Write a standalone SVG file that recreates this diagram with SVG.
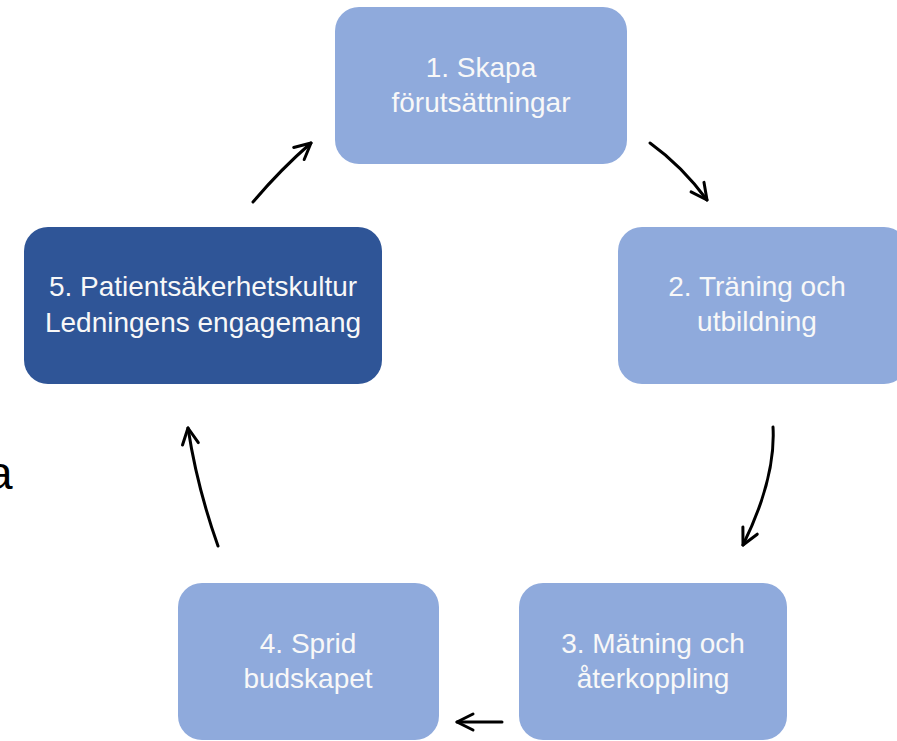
<svg xmlns="http://www.w3.org/2000/svg" width="897" height="741" viewBox="0 0 897 741">
  <style>
    .box { fill: #8FAADC; }
    .dark { fill: #2F5597; }
    .lbl { font-family: "Liberation Sans", Arial, sans-serif; font-size: 28px; fill: #F8F8F8; text-anchor: middle; }
    .edge { font-family: "Liberation Sans", Arial, sans-serif; font-size: 46px; fill: #000; }
    .conn { fill: none; stroke: #000; stroke-width: 3; stroke-linecap: round; stroke-linejoin: round; }
  </style>
  <defs>
    <marker id="arr" markerUnits="userSpaceOnUse" markerWidth="40" markerHeight="40" refX="0" refY="0" viewBox="-20 -20 40 40" orient="auto">
      <path d="M-16,-8 L0,0 L-16,8" fill="none" stroke="#000" stroke-width="3" stroke-linecap="round" stroke-linejoin="round"/>
    </marker>
  </defs>
  <rect width="897" height="741" fill="#fff"/>
  <text class="edge" x="-13" y="489">a</text>

  <g id="node1">
    <rect class="box" x="335" y="7" width="292" height="157" rx="24"/>
    <text class="lbl" x="481" y="77">1. Skapa</text>
    <text class="lbl" x="481" y="112">förutsättningar</text>
  </g>
  <g id="node2">
    <rect class="box" x="618" y="227" width="290" height="157" rx="24"/>
    <text class="lbl" x="757" y="296">2. Träning och</text>
    <text class="lbl" x="757" y="331">utbildning</text>
  </g>
  <g id="node3">
    <rect class="box" x="519" y="583" width="268" height="157" rx="24"/>
    <text class="lbl" x="653" y="653">3. Mätning och</text>
    <text class="lbl" x="653" y="688">återkoppling</text>
  </g>
  <g id="node4">
    <rect class="box" x="178" y="583" width="261" height="157" rx="24"/>
    <text class="lbl" x="308" y="653">4. Sprid</text>
    <text class="lbl" x="308" y="688">budskapet</text>
  </g>
  <g id="node5">
    <rect class="dark" x="24" y="227" width="358" height="157" rx="24"/>
    <text class="lbl" x="203" y="296">5. Patientsäkerhetskultur</text>
    <text class="lbl" x="203" y="332">Ledningens engagemang</text>
  </g>

  <g id="connectors">
    <path class="conn" d="M253,202 Q280,170 311,143" marker-end="url(#arr)"/>
    <path class="conn" d="M650,143 Q682,166 707,200" marker-end="url(#arr)"/>
    <path class="conn" d="M773,427 Q776,478 743,545" marker-end="url(#arr)"/>
    <path class="conn" d="M502,722 L457,722" marker-end="url(#arr)"/>
    <path class="conn" d="M218,546 Q197,487 188,428" marker-end="url(#arr)"/>
  </g>
</svg>
